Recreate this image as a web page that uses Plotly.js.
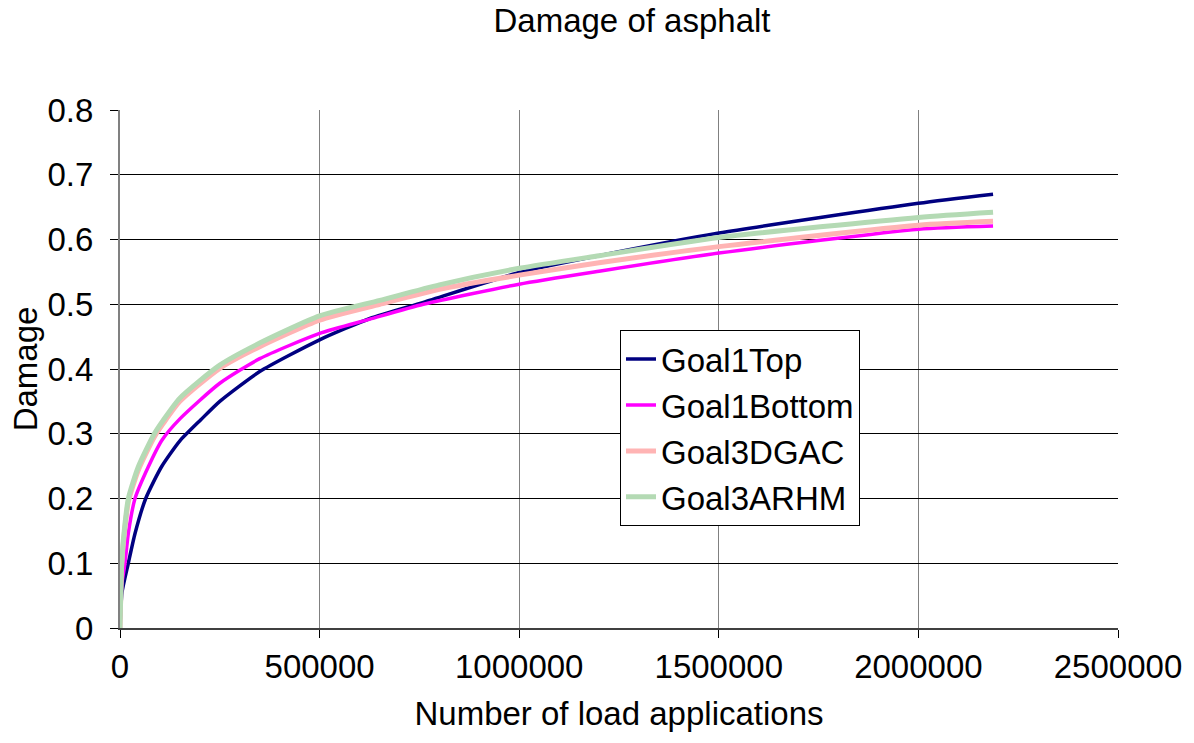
<!DOCTYPE html>
<html>
<head>
<meta charset="utf-8">
<script src="https://cdn.plot.ly/plotly-3.0.1.min.js"></script>
<style>html,body{margin:0;padding:0;background:#fff}#chart{width:1194px;height:743px}</style>
</head>
<body>
<div id="chart"></div>
<script>
// Number of load applications
const xTop    = [0, 5000, 20800, 37600, 64400, 104000, 150000, 203000, 250000, 350000, 500000, 626000, 760000, 1000000, 1200000, 1500000, 2000000, 2187000];
const yTop    = [0, 0.055, 0.100, 0.146, 0.200, 0.249, 0.289, 0.322, 0.350, 0.396, 0.445, 0.478, 0.503, 0.549, 0.575, 0.610, 0.656, 0.670];

const xBottom = [0, 4000, 12500, 20800, 37600, 71000, 105000, 150000, 250000, 350000, 500000, 626000, 760000, 1000000, 1200000, 1500000, 2000000, 2187000];
const yBottom = [0, 0.065, 0.100, 0.146, 0.200, 0.249, 0.290, 0.323, 0.378, 0.416, 0.455, 0.477, 0.500, 0.531, 0.551, 0.579, 0.616, 0.621];

const xDGAC   = [0, 4200, 10000, 21000, 46000, 86000, 108500, 150000, 250000, 350000, 500000, 651000, 800000, 1000000, 1200000, 1500000, 2000000, 2187000];
const yDGAC   = [0, 0.097, 0.141, 0.195, 0.244, 0.295, 0.316, 0.350, 0.401, 0.4345, 0.4755, 0.500, 0.523, 0.545, 0.564, 0.589, 0.622, 0.628];

const xARHM   = [0, 4200, 10000, 21000, 46000, 86000, 108500, 150000, 250000, 350000, 500000, 651000, 800000, 1000000, 1200000, 1500000, 2000000, 2187000];
const yARHM   = [0, 0.100, 0.146, 0.200, 0.249, 0.300, 0.321, 0.355, 0.406, 0.440, 0.482, 0.506, 0.530, 0.5555, 0.575, 0.603, 0.634, 0.642];

const seriesNames = ['Goal1Top', 'Goal1Bottom', 'Goal3DGAC', 'Goal3ARHM'];
const xTicks = [0, 500000, 1000000, 1500000, 2000000, 2500000];
const xTickText = ['0', '500000', '1000000', '1500000', '2000000', '2500000'];
const yTicks = [0, 0.1, 0.2, 0.3, 0.4, 0.5, 0.6, 0.7, 0.8];
const yTickText = ['0', '0.1', '0.2', '0.3', '0.4', '0.5', '0.6', '0.7', '0.8'];

const FONT = 'Arial, "Liberation Sans", sans-serif';
const FS = 33;
const mk = (x, y, name, color, width) => ({
  x: x, y: y, name: name, type: 'scatter', mode: 'lines',
  line: {color: color, width: width, shape: 'spline', smoothing: 0.6}
});

const data = [
  mk(xTop, yTop, seriesNames[0], '#000080', 3.5),
  mk(xBottom, yBottom, seriesNames[1], '#FF00FF', 3.5),
  mk(xDGAC, yDGAC, seriesNames[2], '#FFB4B4', 5),
  mk(xARHM, yARHM, seriesNames[3], '#B4DAB4', 5)
];

const layout = {
  width: 1194, height: 743,
  margin: {l: 120, r: 76, t: 110, b: 115},
  paper_bgcolor: '#fff', plot_bgcolor: '#fff',
  font: {family: FONT, color: '#000', size: FS},
  title: {text: 'Damage of asphalt', font: {family: FONT, size: FS, color: '#000'},
          xref: 'container', x: 632/1194, xanchor: 'center', yref: 'container', y: 1 - 9/743, yanchor: 'top'},
  xaxis: {
    range: [0, 2500000], tickvals: xTicks, ticktext: xTickText,
    showgrid: true, gridcolor: '#808080', gridwidth: 1,
    zeroline: false, showline: true, linecolor: '#404040', linewidth: 2,
    ticks: 'outside', ticklen: 8, tickcolor: '#000', tickwidth: 1,
    tickfont: {family: FONT, size: FS, color: '#000'},
    title: {text: 'Number of load applications', font: {family: FONT, size: FS, color: '#000'}, standoff: 18},
    fixedrange: true
  },
  yaxis: {
    range: [0, 0.8], tickvals: yTicks, ticktext: yTickText,
    showgrid: true, gridcolor: '#000', gridwidth: 1,
    zeroline: false, showline: true, linecolor: '#808080', linewidth: 2,
    ticks: 'outside', ticklen: 8, tickcolor: '#000', tickwidth: 1,
    ticklabelstandoff: 10,
    tickfont: {family: FONT, size: FS, color: '#000'},
    title: {text: 'Damage', font: {family: FONT, size: FS, color: '#000'}, standoff: 0},
    fixedrange: true
  },
  legend: {
    x: 0.501, y: 0.575, xanchor: 'left', yanchor: 'top',
    bgcolor: '#fff', bordercolor: '#000', borderwidth: 1,
    font: {family: FONT, size: FS, color: '#000'},
    tracegroupgap: 0
  },
  showlegend: true
};

Plotly.newPlot('chart', data, layout, {displayModeBar: false, staticPlot: true});
</script>
</body>
</html>
